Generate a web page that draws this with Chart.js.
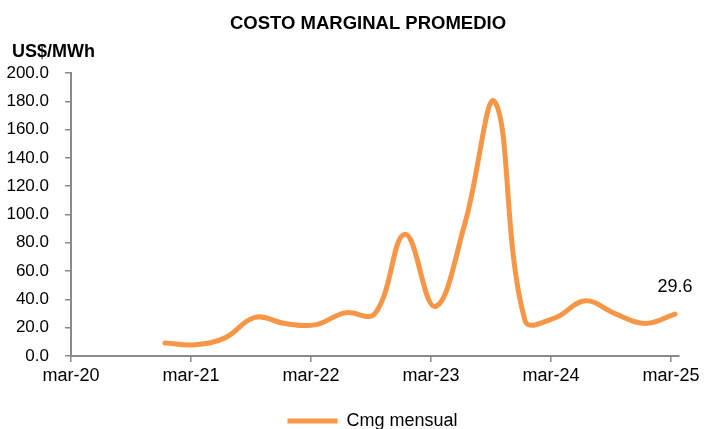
<!DOCTYPE html>
<html>
<head>
<meta charset="utf-8">
<script src="https://cdn.jsdelivr.net/npm/chart.js@4/dist/chart.umd.min.js"></script>
<style>
html,body{margin:0;padding:0;background:#ffffff;}
#wrap{width:705px;height:429px;position:relative;}
</style>
</head>
<body>
<div id="wrap"><canvas id="c" width="705" height="429"></canvas></div>
<script>
// ---- data ----
const chartTitle = 'COSTO MARGINAL PROMEDIO';
const unitLabel = 'US$/MWh';
const seriesName = 'Cmg mensual';
const periods = ['dic-20','mar-21','jun-21','sep-21','dic-21','mar-22','jun-22','sep-22','dic-22',
                 'mar-23','jun-23','sep-23','dic-23','mar-24','jun-24','sep-24','dic-24','mar-25'];
const values  = [9.2, 8.0, 12.8, 27.3, 23.0, 22.0, 30.5, 30.0, 86.0,
                 35.0, 94.0, 179.5, 25.0, 27.0, 39.0, 30.0, 23.0, 29.6];
const xTickLabels = ['mar-20','mar-21','mar-22','mar-23','mar-24','mar-25'];
const yTickValues = [0, 20, 40, 60, 80, 100, 120, 140, 160, 180, 200];
const lastValueLabel = '29.6';

// ---- helpers ----
const monthsEs = ['ene','feb','mar','abr','may','jun','jul','ago','sep','oct','nov','dic'];
const BASE_YEAR = 2020, BASE_MONTH = 2;      // mar-20 is the axis origin
const POINT_OFFSET = 0.4;                     // points dated mid-month
function monthIndex(label) {
  const [m, y] = label.split('-');
  return (2000 + parseInt(y, 10) - BASE_YEAR) * 12 + monthsEs.indexOf(m) - BASE_MONTH;
}
const points = periods.map((p, i) => ({ x: monthIndex(p) + POINT_OFFSET, y: values[i] }));

const FONT = "'Liberation Sans', Arial, sans-serif";
const AXIS_GREY = '#8a8a8a';
const ORANGE = '#F79646';

const textPlugin = {
  id: 'texts',
  afterLayout(chart) {
    const lg = chart.legend;
    if (!lg || !lg.lineWidths) return;
    const pad = lg.options.labels.padding;
    const start = (lg.left + pad + lg.right - lg.lineWidths[0]) / 2;
    const itemH = lg._itemHeight || 18;
    const dx = 287.5 - start;
    const dy = 421 - (lg.top + pad + itemH / 2);
    lg.left += dx; lg.right += dx; lg.top += dy; lg.bottom += dy;
  },
  afterDraw(chart) {
    const ctx = chart.ctx;
    ctx.save();
    ctx.fillStyle = '#000';
    ctx.textBaseline = 'alphabetic';
    ctx.font = 'bold 18.5px ' + FONT;
    ctx.textAlign = 'center';
    ctx.fillText(chartTitle, 368, 29);
    ctx.font = 'bold 18px ' + FONT;
    ctx.textAlign = 'left';
    ctx.fillText(unitLabel, 12, 57);
    // last value label
    const meta = chart.getDatasetMeta(0);
    const last = meta.data[meta.data.length - 1];
    ctx.font = '18px ' + FONT;
    ctx.textAlign = 'center';
    ctx.textBaseline = 'middle';
    ctx.fillText(lastValueLabel, last.x, last.y - 27);
    ctx.restore();
  }
};

new Chart(document.getElementById('c'), {
  type: 'line',
  data: {
    datasets: [{
      label: seriesName,
      data: points,
      borderColor: ORANGE,
      backgroundColor: ORANGE,
      borderWidth: 5,
      borderCapStyle: 'round',
      borderJoinStyle: 'round',
      pointRadius: 0,
      pointHoverRadius: 0,
      tension: 0.4,
      fill: false
    }]
  },
  options: {
    responsive: false,
    animation: false,
    devicePixelRatio: 1,
    layout: { padding: { left: 0, right: 26, top: 73, bottom: 0 } },
    plugins: {
      title: { display: false },
      tooltip: { enabled: false },
      legend: {
        display: true,
        position: 'bottom',
        labels: {
          usePointStyle: true,
          pointStyle: 'line',
          pointStyleWidth: 50,
          padding: 10,
          color: '#000',
          font: { family: FONT, size: 18 }
        }
      }
    },
    scales: {
      x: {
        type: 'linear',
        min: 0,
        max: 60.8,
        afterBuildTicks(scale) { scale.ticks = xTickLabels.map(l => ({ value: monthIndex(l) })); },
        afterFit(scale) { scale.height = 35; scale.paddingLeft = 0; scale.paddingRight = 0; },
        ticks: {
          autoSkip: false,
          maxRotation: 0,
          padding: 3,
          color: '#000',
          font: { family: FONT, size: 18 },
          callback: (v, i) => xTickLabels[i]
        },
        grid: { drawOnChartArea: false, drawTicks: true, tickLength: 6, color: AXIS_GREY, lineWidth: 1.5 },
        border: { display: true, color: AXIS_GREY, width: 2 }
      },
      y: {
        min: 0,
        max: 200,
        afterBuildTicks(scale) { scale.ticks = yTickValues.map(v => ({ value: v })); },
        afterFit(scale) { scale.width = 71; scale.paddingTop = 0; scale.paddingBottom = 0; },
        ticks: {
          padding: 16,
          color: '#000',
          font: { family: FONT, size: 17 },
          callback: v => Number(v).toFixed(1)
        },
        grid: { drawOnChartArea: false, drawTicks: true, tickLength: 6, color: AXIS_GREY, lineWidth: 1.5 },
        border: { display: true, color: AXIS_GREY, width: 2 }
      }
    }
  },
  plugins: [textPlugin]
});
</script>
</body>
</html>
